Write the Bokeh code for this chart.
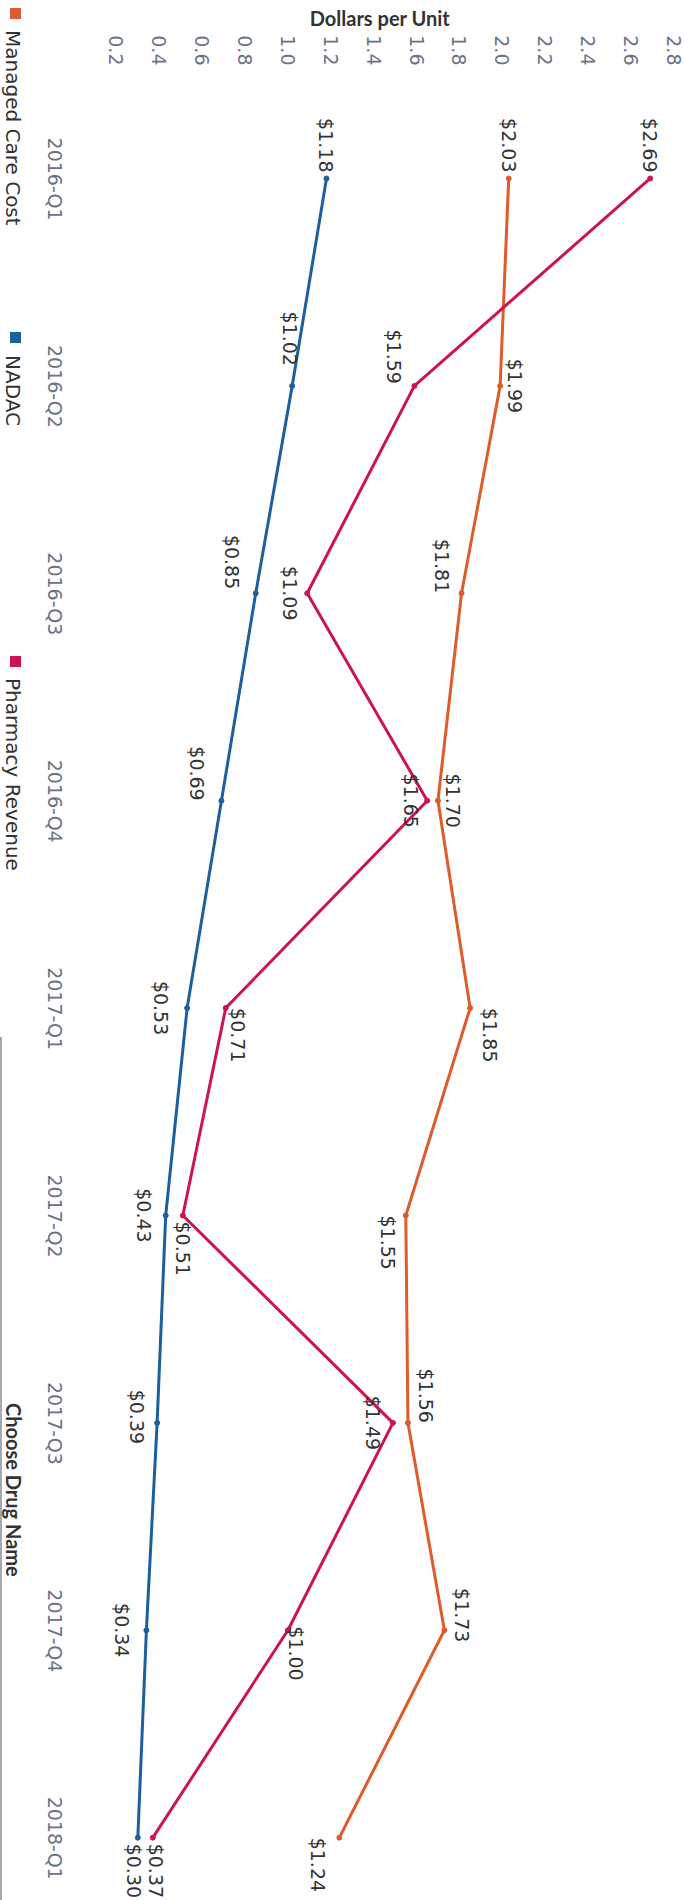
import math
from bokeh.plotting import figure
from bokeh.layouts import row
from bokeh.models import Range1d, FixedTicker, ColumnDataSource, NumeralTickFormatter, Div
from bokeh.core.properties import value
from bokeh.embed import file_html
from bokeh.resources import INLINE

# ---- data ----
quarters = ["2016-Q1", "2016-Q2", "2016-Q3", "2016-Q4", "2017-Q1",
            "2017-Q2", "2017-Q3", "2017-Q4", "2018-Q1"]
managed_care_cost = [2.03, 1.99, 1.81, 1.70, 1.85, 1.55, 1.56, 1.73, 1.24]
nadac = [1.18, 1.02, 0.85, 0.69, 0.53, 0.43, 0.39, 0.34, 0.30]
pharmacy_revenue = [2.69, 1.59, 1.09, 1.65, 0.71, 0.51, 1.49, 1.00, 0.37]
dollar_ticks = [0.2, 0.4, 0.6, 0.8, 1.0, 1.2, 1.4, 1.6, 1.8, 2.0, 2.2, 2.4, 2.6, 2.8]
series_names = ["Managed Care Cost", "NADAC", "Pharmacy Revenue"]
filter_title = "Choose Drug Name"

# ---- style ----
colors = {"Managed Care Cost": "#de5b2b", "NADAC": "#1b5f9e", "Pharmacy Revenue": "#cc1450"}
FONT = "DejaVu Sans"
BOLD = "Lato"
TICK_COLOR = "#6a7385"
LABEL_COLOR = "#333333"

# label placement (align, dx, dy) in screen px
place = {
    "Managed Care Cost": [("right", 0, -6), ("center", 15, 0), ("right", -20, 0), ("center", 15, 0),
                          ("left", 20, 0), ("left", -18, 0), ("right", 18, 0), ("center", 18, -15),
                          ("left", -21, 0)],
    "Pharmacy Revenue": [("right", 0, -6), ("right", -20, -2), ("center", -17, 0), ("center", -16, 0),
                         ("left", 12, 0), ("left", 0, 6), ("center", -20, 0), ("left", 8, -4),
                         ("left", 3, 6)],
    "NADAC": [("right", 0, -6), ("right", -2, -20), ("right", -24, -4), ("right", -24, 0),
              ("center", -26, 0), ("center", -22, 0), ("center", -20, -6), ("center", -24, 0),
              ("left", -4, 6)],
}

H = 1900
LEG_W = 24
MAIN_W = 684 - LEG_W

# ---- legend strip (left), vertical text ----
legend_marker_top = [8, 332, 656]
legend_text_top = [30, 355, 678]
parts = ['<div style="position:relative;width:%dpx;height:%dpx;overflow:visible;">' % (LEG_W, H)]
parts.append('<div style="position:absolute;left:0px;top:1037px;width:2px;height:%dpx;'
             'background:#a3a9b1;"></div>' % (H - 1037))
for name, mt, tt in zip(series_names, legend_marker_top, legend_text_top):
    parts.append('<div style="position:absolute;left:10px;top:%dpx;width:11px;height:11px;'
                 'background:%s;"></div>' % (mt, colors[name]))
    parts.append('<div style="position:absolute;left:3px;top:%dpx;writing-mode:vertical-rl;'
                 'font-family:\'DejaVu Sans\';font-size:20px;line-height:20px;color:#333333;'
                 'white-space:nowrap;">%s</div>' % (tt, name))
parts.append('<div style="position:absolute;left:4px;top:1403px;writing-mode:vertical-rl;'
             'font-family:Lato;font-weight:bold;font-size:20px;line-height:20px;color:#333333;'
             'white-space:nowrap;">%s</div>' % filter_title)
parts.append('</div>')
leg = Div(text="".join(parts), width=LEG_W, height=H, margin=(0, 0, 0, 0))

# ---- main chart ----
p = figure(width=MAIN_W, height=H,
           x_range=Range1d(0.0093, 2.85), y_range=Range1d(8.303, -0.5159),
           x_axis_location="above", output_backend="svg", toolbar_location=None,
           min_border_left=51, min_border_right=0, min_border_top=71, min_border_bottom=0)
p.outline_line_color = None
p.grid.visible = False

xa = p.xaxis[0]
xa.ticker = FixedTicker(ticks=dollar_ticks)
xa.formatter = NumeralTickFormatter(format="0.0")
xa.major_label_orientation = -math.pi / 2
xa.major_label_text_font = FONT
xa.major_label_text_font_size = "19px"
xa.major_label_text_color = TICK_COLOR
xa.major_label_standoff = 0
xa.axis_line_color = None
xa.major_tick_line_color = None
xa.minor_tick_line_color = None
xa.axis_label = "Dollars per Unit"
xa.axis_label_text_font = BOLD
xa.axis_label_text_font_style = "bold"
xa.axis_label_text_font_size = "20px"
xa.axis_label_text_color = LABEL_COLOR
xa.axis_label_standoff = 2

# quarter labels: rotated labels are end-anchored at their tick, so the tick is
# shifted by half a label length (42px) to centre each label on its quarter
half_label = 42 / 207.4
ya = p.yaxis[0]
ya.ticker = FixedTicker(ticks=[i + half_label for i in range(len(quarters))])
ya.major_label_overrides = {i + half_label: q for i, q in enumerate(quarters)}
ya.major_label_orientation = -math.pi / 2
ya.major_label_text_font = FONT
ya.major_label_text_font_size = "19px"
ya.major_label_text_color = TICK_COLOR
ya.major_label_standoff = 15
ya.axis_line_color = None
ya.major_tick_line_color = None
ya.minor_tick_line_color = None

series_values = {"Managed Care Cost": managed_care_cost, "NADAC": nadac,
                 "Pharmacy Revenue": pharmacy_revenue}
for name in ["Managed Care Cost", "Pharmacy Revenue", "NADAC"]:
    vals = series_values[name]
    src = ColumnDataSource(dict(
        v=vals, q=list(range(len(quarters))), txt=["$%.2f" % v for v in vals],
        align=[a for a, _, _ in place[name]],
        dx=[d for _, d, _ in place[name]],
        dy=[d for _, _, d in place[name]],
    ))
    p.line("v", "q", source=src, line_color=colors[name], line_width=3, line_join="round")
    p.scatter("v", "q", source=src, size=5, color=colors[name])
    p.text("v", "q", text="txt", source=src, angle=-math.pi / 2,
           text_align="align", text_baseline="middle", x_offset="dx", y_offset="dy",
           text_font=value(FONT), text_font_size="19px", text_color=LABEL_COLOR)

layout = row(leg, p, spacing=0)
open("out.html", "w").write(file_html(layout, INLINE))
